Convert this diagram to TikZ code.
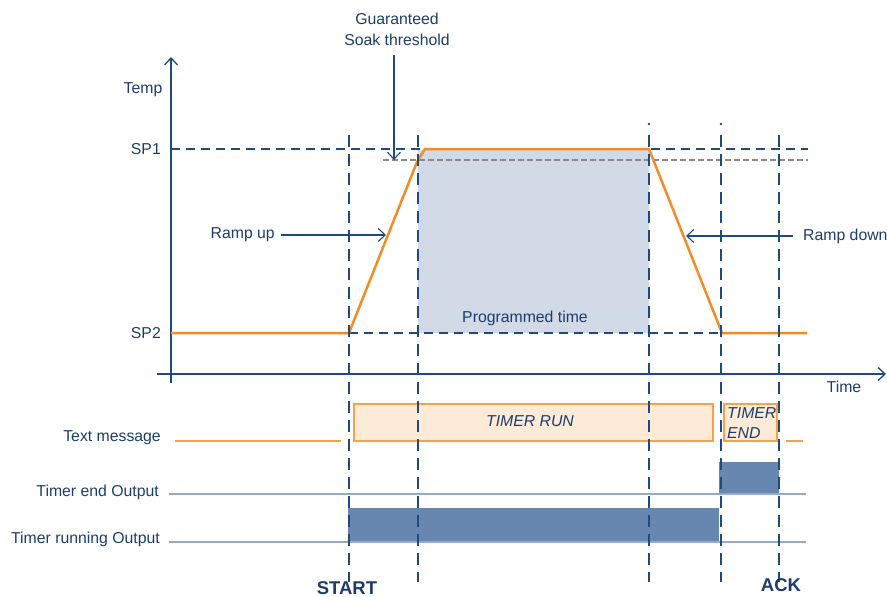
\documentclass[tikz,border=0pt]{standalone}
\usepackage{fontspec}
\setmainfont{Liberation Sans}
\usepackage{xcolor}
\usepackage{tikz}
\usetikzlibrary{arrows.meta,calc,positioning}
\definecolor{navy}{HTML}{1F4A7C}
\definecolor{txtblue}{HTML}{1C3D6B}
\definecolor{rampcol}{HTML}{F28C28}
\definecolor{msgfill}{HTML}{FDEBD8}
\definecolor{msgline}{HTML}{F5A24E}
\definecolor{soakfill}{HTML}{D3DAE7}
\definecolor{outfill}{HTML}{6787B0}
\definecolor{outline}{HTML}{92ABCB}
\definecolor{thresh}{HTML}{8A8A8A}
\tikzset{
  lbl/.style={text=txtblue,font=\fontsize{15.8}{18}\selectfont,inner sep=0pt},
  msg/.style={lbl,font=\fontsize{15.8}{20}\selectfont\itshape},
  tag/.style={lbl,font=\fontsize{18.5}{20}\selectfont\bfseries},
  axis/.style={color=navy,line width=1.3pt,-{Straight Barb[length=7pt,width=13pt]}},
  pointer/.style={color=navy,line width=1.1pt,-{Straight Barb[length=7pt,width=13pt]}},
  marker/.style={color=navy,line width=2.3pt,dash pattern=on 12pt off 7pt},
  level/.style={color=navy,line width=1.3pt,dash pattern=on 9pt off 6pt},
  soakline/.style={color=thresh,line width=1.3pt,dash pattern=on 6pt off 3pt},
  profile/.style={color=rampcol,line width=2.5pt,line join=round},
  msgbox/.style={draw=msgline,fill=msgfill,line width=2.2pt},
  outbar/.style={fill=outfill},
  outbase/.style={color=outline,line width=1.3pt}
}
\begin{document}
\begin{tikzpicture}[line cap=butt,x=1pt,y=-1pt]
\useasboundingbox (0,0) rectangle (887,597);
\fill[soakfill] (418,150) rectangle (649,333);
\fill[outbar] (719,462) rectangle (779,494);
\fill[outbar] (348,508) rectangle (719,542);
\draw[outbase] (169,494) -- (806,494);
\draw[outbase] (169,542) -- (806,542);
\draw[msgbox] (354,404) rectangle (713,441);
\draw[msgbox] (724,404) rectangle (777,441);
\draw[color=msgline,line width=2pt] (175,441) -- (341,441);
\draw[color=msgline,line width=1.3pt] (786,441) -- (803,441);
\draw[level] (171,149) -- (808,149);
\draw[level] (349,333) -- (722,333);
\draw[soakline] (383,160) -- (808,160);
\draw[axis] (171,383) -- (171,57);
\draw[axis] (157,374) -- (886,374);
\draw[profile] (171,333) -- (349,333) -- (417,162) -- (425,149) -- (649,149) -- (722,333) -- (807,333);
\foreach \xm/\ytop in {349/135,418/135,649/135,721/135,779/135}
  \draw[marker] (\xm,\ytop) -- (\xm,582);
\foreach \xm in {649,721}
  \fill[navy] (\xm,124) circle (1.3pt);
\node[lbl] (temp) at (143,90) {Temp};
\node[lbl] (time) at (844,387) {Time};
\node[lbl,anchor=east] (sp1) at (161,149) {SP1};
\node[lbl,anchor=east] (sp2) at (161,333) {SP2};
\node[lbl,align=center] (soak) at (397,29) {Guaranteed\\[3pt]Soak threshold};
\coordinate (soaktop) at (394,55);
\coordinate (soaktip) at (394,160);
\draw[pointer] (soaktop) -- (soaktip);
\node[lbl,anchor=east] (rampup) at (275,235) {Ramp up};
\coordinate (uptip) at (386,235);
\draw[pointer] ([xshift=6pt]rampup.east) -- (uptip);
\node[lbl,anchor=west] (rampdown) at (803,236) {Ramp down};
\coordinate (downtip) at (686,236);
\draw[pointer] ([xshift=-10pt]rampdown.west) -- (downtip);
\node[lbl] (progtime) at (525,318) {Programmed time};
\node[msg] (timerrun) at (530,421) {TIMER RUN};
\node[msg,align=left,anchor=west] (timerend) at (727,423) {TIMER\\END};
\node[lbl,anchor=east] (textmsg) at (161,438) {Text message};
\node[lbl,anchor=east] (endout) at (159,492) {Timer end Output};
\node[lbl,anchor=east] (runout) at (160,539) {Timer running Output};
\node[tag] (start) at (347,588) {START};
\node[tag] (ack) at (781,585) {ACK};
\end{tikzpicture}
\end{document}
